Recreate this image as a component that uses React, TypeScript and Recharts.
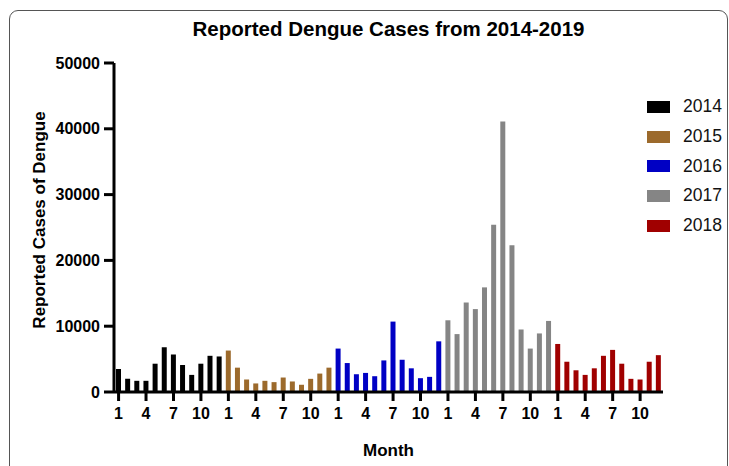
import React from "react";
import { BarChart, Bar, Cell, XAxis, YAxis } from "recharts";

const years = ["2014", "2015", "2016", "2017", "2018"];
const yearColors = ["#000000", "#9C6A2C", "#0000C4", "#858585", "#A00000"];
const monthNums = [1, 2, 3, 4, 5, 6, 7, 8, 9, 10, 11, 12];

const cases2014 = [3500, 2000, 1700, 1700, 4300, 6800, 5700, 4100, 2600, 4300, 5500, 5400];
const cases2015 = [6300, 3700, 1900, 1300, 1700, 1500, 2200, 1600, 1100, 2000, 2800, 3700];
const cases2016 = [6600, 4400, 2700, 2900, 2400, 4800, 10700, 4900, 3600, 2100, 2300, 7700];
const cases2017 = [10900, 8800, 13600, 12600, 15900, 25400, 41100, 22300, 9500, 6600, 8900, 10800];
const cases2018 = [7300, 4600, 3300, 2600, 3600, 5500, 6400, 4300, 2000, 1900, 4600, 5600];

const yTicks = [0, 10000, 20000, 30000, 40000, 50000];
const labelledMonths = [1, 4, 7, 10];

const font = "Arial, 'Liberation Sans', Helvetica, sans-serif";

const allCases = [cases2014, cases2015, cases2016, cases2017, cases2018];

// one row per month, coloured by year
const data = years.flatMap((yr, i) =>
  monthNums.map((m, j) => ({
    key: `${yr}-${m}`,
    month: m,
    cases: allCases[i][j],
    color: yearColors[i],
  }))
);

const xTicks = data.filter((d) => labelledMonths.includes(d.month)).map((d) => d.key);

const YearLegend = () => (
  <div
    style={{
      position: "absolute",
      left: 647,
      top: 92,
      fontFamily: font,
      fontSize: 17.5,
      color: "#111",
    }}
  >
    {years.map((yr, i) => (
      <div key={yr} style={{ display: "flex", alignItems: "center", height: 29.7 }}>
        <span
          style={{
            display: "inline-block",
            width: 23,
            height: 12,
            background: yearColors[i],
            marginRight: 13,
          }}
        />
        <span>{yr}</span>
      </div>
    ))}
  </div>
);

export default function App() {
  return (
    <div
      style={{
        position: "absolute",
        left: 0,
        top: 0,
        width: 729,
        height: 466,
        overflow: "hidden",
        background: "#fff",
      }}
    >
      <div
        style={{
          position: "absolute",
          left: 9,
          top: 10,
          width: 717,
          height: 520,
          border: "1px solid #555",
          borderRadius: 9,
        }}
      />
      <BarChart
        width={729}
        height={466}
        data={data}
        margin={{ top: 63, right: 66, bottom: 34, left: 0 }}
        barSize={5}
      >
        <XAxis
          dataKey="key"
          ticks={xTicks}
          interval={0}
          tickFormatter={(v: string) => v.split("-")[1]}
          height={40}
          tickSize={9}
          tickMargin={7}
          axisLine={{ stroke: "#000", strokeWidth: 3 }}
          tickLine={{ stroke: "#000", strokeWidth: 3 }}
          tick={{ fill: "#000", fontSize: 16, fontWeight: 700, fontFamily: font }}
        />
        <YAxis
          width={114}
          domain={[0, 50000]}
          ticks={yTicks}
          interval={0}
          tickSize={10}
          tickMargin={4}
          axisLine={{ stroke: "#000", strokeWidth: 3 }}
          tickLine={{ stroke: "#000", strokeWidth: 3 }}
          tick={{ fill: "#000", fontSize: 16, fontWeight: 700, fontFamily: font }}
        />
        <Bar dataKey="cases" isAnimationActive={false}>
          {data.map((d) => (
            <Cell key={d.key} fill={d.color} />
          ))}
        </Bar>
      </BarChart>
      <YearLegend />
      <svg
        width={729}
        height={466}
        style={{ position: "absolute", left: 0, top: 0, pointerEvents: "none" }}
      >
        <text
          x={388.5}
          y={36}
          textAnchor="middle"
          fontFamily={font}
          fontWeight={700}
          fontSize={20.5}
          fill="#000"
        >
          Reported Dengue Cases from 2014-2019
        </text>
        <text
          transform="translate(45, 220) rotate(-90)"
          textAnchor="middle"
          fontFamily={font}
          fontWeight={700}
          fontSize={17}
          fill="#000"
        >
          Reported Cases of Dengue
        </text>
        <text
          x={388.5}
          y={456}
          textAnchor="middle"
          fontFamily={font}
          fontWeight={700}
          fontSize={17}
          fill="#000"
        >
          Month
        </text>
      </svg>
    </div>
  );
}
